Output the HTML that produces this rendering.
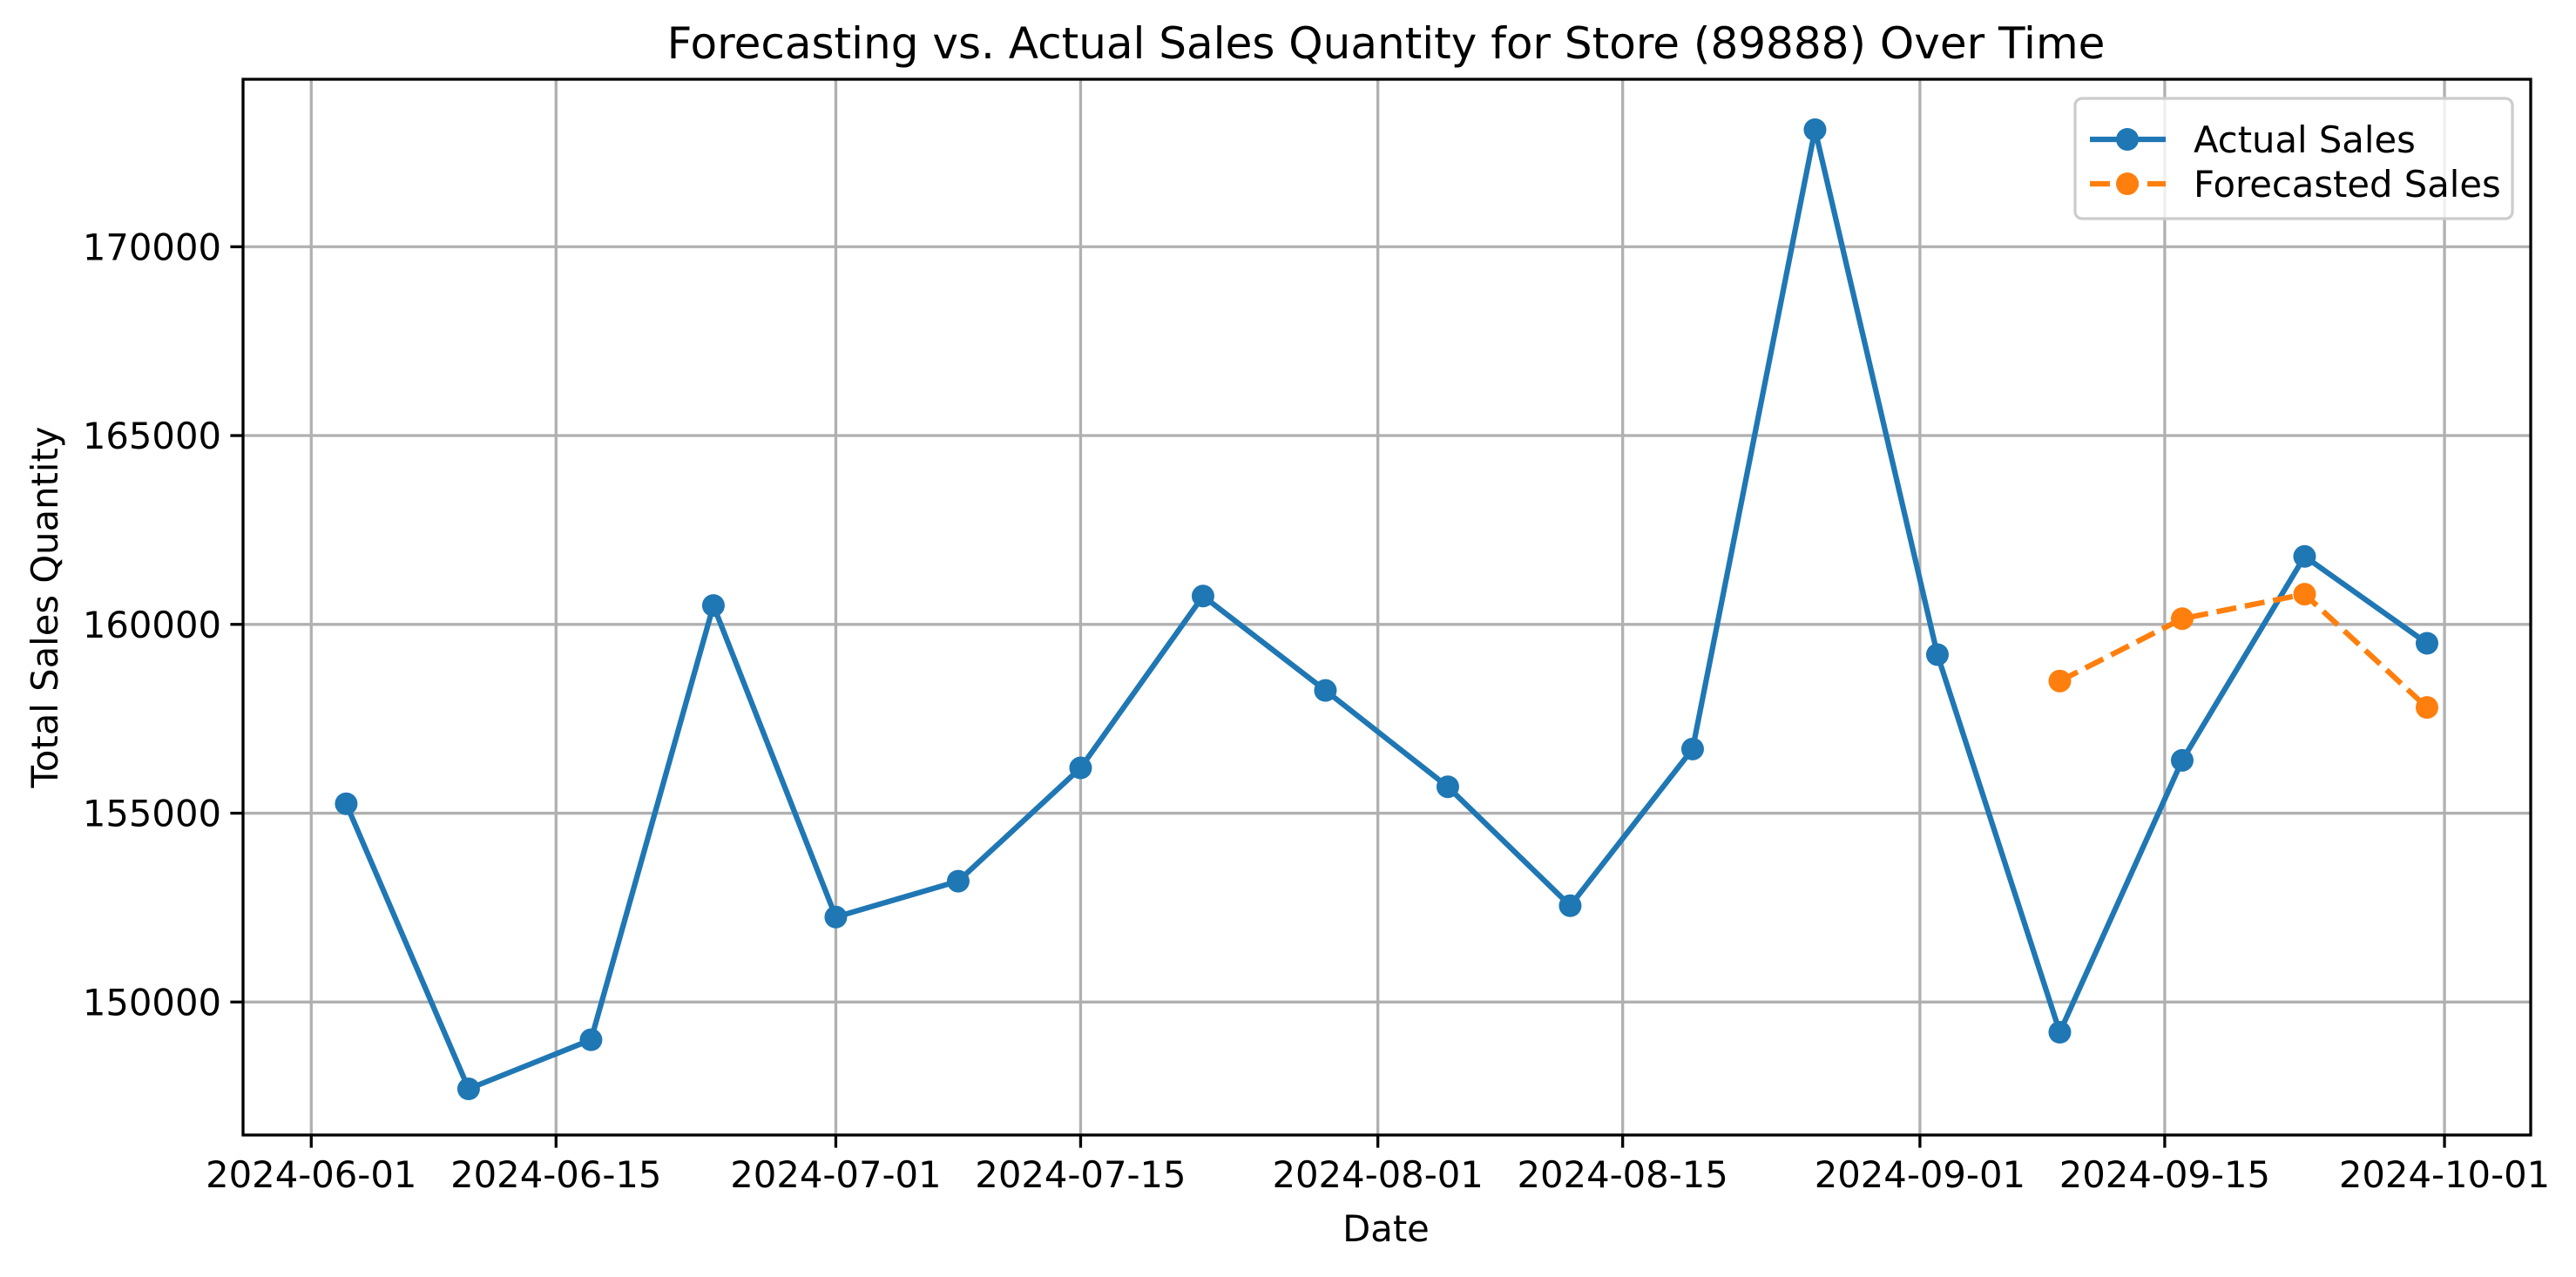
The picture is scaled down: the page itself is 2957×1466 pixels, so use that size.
<!DOCTYPE html>
<html><head><meta charset="utf-8"><style>
html,body{margin:0;padding:0;background:#fff;}
svg{display:block;font-family:"DejaVu Sans","Liberation Sans",sans-serif;}
</style></head><body>
<svg id="chart" width="2957" height="1466" viewBox="0 0 2957 1466" xmlns="http://www.w3.org/2000/svg">
<rect width="2957" height="1466" fill="#fff"/>
<text x="1591" y="67" font-size="50" text-anchor="middle">Forecasting vs. Actual Sales Quantity for Store (89888) Over Time</text>
<g id="grid"></g>
<g id="ticks"></g>
<g id="series"></g>
<rect x="279" y="91" width="2626" height="1212" fill="none" stroke="#000" stroke-width="3.3"/>
<text x="1591" y="1425" font-size="41.7" text-anchor="middle">Date</text>
<text x="0" y="0" font-size="41.7" text-anchor="middle" transform="translate(66,697) rotate(-90)">Total Sales Quantity</text>
<g>
<rect x="2382" y="113" width="502" height="138" rx="8" fill="#fff" fill-opacity="0.8" stroke="#ccc" stroke-width="3.3"/>
<line x1="2399" y1="160" x2="2486" y2="160" stroke="#1f77b4" stroke-width="6.25"/>
<circle cx="2442" cy="160" r="13" fill="#1f77b4"/>
<text x="2518" y="175" font-size="41.7">Actual Sales</text>
<line x1="2399" y1="211" x2="2486" y2="211" stroke="#ff7f0e" stroke-width="6.25" stroke-dasharray="23 10"/>
<circle cx="2442" cy="211" r="13" fill="#ff7f0e"/>
<text x="2518" y="226" font-size="41.7">Forecasted Sales</text>
</g>
</svg>
<script>
const actualDates = ["2024-06-03","2024-06-10","2024-06-17","2024-06-24","2024-07-01","2024-07-08","2024-07-15","2024-07-22","2024-07-29","2024-08-05","2024-08-12","2024-08-19","2024-08-26","2024-09-02","2024-09-09","2024-09-16","2024-09-23","2024-09-30"];
const actualValues = [155250,147700,149000,160500,152250,153200,156200,160750,158250,155700,152550,156700,173100,159200,149200,156400,161800,159500];
const forecastDates = ["2024-09-09","2024-09-16","2024-09-23","2024-09-30"];
const forecastValues = [158500,160150,160800,157800];
const xTickLabels = ["2024-06-01","2024-06-15","2024-07-01","2024-07-15","2024-08-01","2024-08-15","2024-09-01","2024-09-15","2024-10-01"];
const yTickValues = [150000,155000,160000,165000,170000];

const NS="http://www.w3.org/2000/svg";
const L=279,R=2905,T=91,B=1303;
const day=86400000;
const x0=Date.parse("2024-06-01")-3.9*day, x1=Date.parse("2024-10-01")+4.93*day;
const y0=146478, y1=174435;
function xs(d){return L+(Date.parse(d)-x0)/(x1-x0)*(R-L);}
function ys(v){return B-(v-y0)/(y1-y0)*(B-T);}
function mk(tag,attrs,parent,text){const e=document.createElementNS(NS,tag);for(const k in attrs)e.setAttribute(k,attrs[k]);if(text!==undefined)e.textContent=text;parent.appendChild(e);return e;}
const grid=document.getElementById('grid'),ticks=document.getElementById('ticks'),series=document.getElementById('series');
xTickLabels.forEach(t=>{const x=xs(t);
 const g=mk('line',{x1:x,x2:x,y1:T,y2:B,stroke:'#b0b0b0','stroke-width':3.3},grid);
 
 
 mk('line',{x1:x,x2:x,y1:B,y2:B+14.6,stroke:'#000','stroke-width':3.3},ticks);
 const tx=mk('text',{x:x,y:B+60,'font-size':41.7,'text-anchor':'middle'},ticks,t);
 
 
});
yTickValues.forEach(v=>{const y=ys(v);
 const g=mk('line',{x1:L,x2:R,y1:y,y2:y,stroke:'#b0b0b0','stroke-width':3.3},grid);
 
 
 mk('line',{x1:L-14.6,x2:L,y1:y,y2:y,stroke:'#000','stroke-width':3.3},ticks);
 const tx=mk('text',{x:L-25,y:y+15,'font-size':41.7,'text-anchor':'end'},ticks,String(v));
 
 
});
function drawSeries(dates,vals,color,dash,name){
 const pts=dates.map((d,i)=>xs(d)+','+ys(vals[i])).join(' ');
 const pl=mk('polyline',{points:pts,fill:'none',stroke:color,'stroke-width':6.25,'stroke-linejoin':'round','stroke-dasharray':dash||'none'},series);
 
 
 dates.forEach((d,i)=>{const c=mk('circle',{cx:xs(d),cy:ys(vals[i]),r:13,fill:color},series);
  
  });
}
drawSeries(actualDates,actualValues,'#1f77b4',null,'actual-sales');
drawSeries(forecastDates,forecastValues,'#ff7f0e','23 10','forecasted-sales');
</script>
</body></html>
